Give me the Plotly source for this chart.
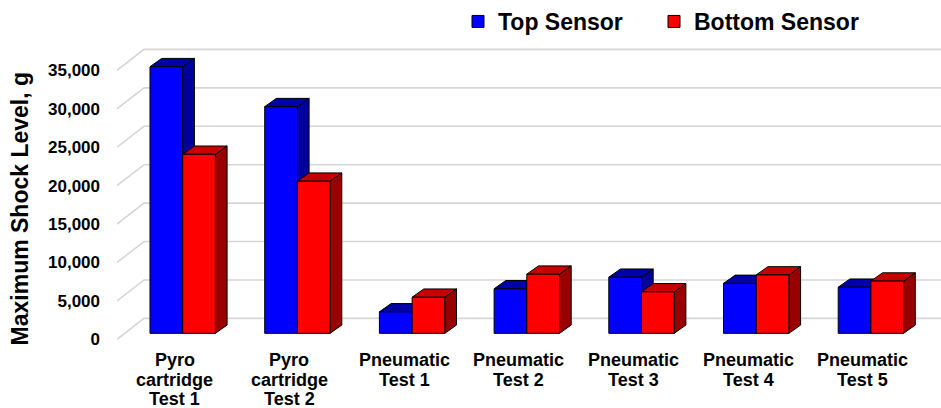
import plotly.graph_objects as go

# ---- data -------------------------------------------------------------
categories = [
    "Pyro<br>cartridge<br>Test 1",
    "Pyro<br>cartridge<br>Test 2",
    "Pneumatic<br>Test 1",
    "Pneumatic<br>Test 2",
    "Pneumatic<br>Test 3",
    "Pneumatic<br>Test 4",
    "Pneumatic<br>Test 5",
]
top_sensor = [34700, 29500, 2800, 5800, 7300, 6500, 6000]
bottom_sensor = [23300, 19800, 4700, 7700, 5400, 7600, 6800]
series_names = ["Top Sensor", "Bottom Sensor"]
y_ticks = [0, 5000, 10000, 15000, 20000, 25000, 30000, 35000]
y_tick_text = ["0", "5,000", "10,000", "15,000", "20,000", "25,000", "30,000", "35,000"]
y_title = "Maximum Shock Level, g"

# ---- styling ----------------------------------------------------------
FONT = "Liberation Sans, Arial, Helvetica, sans-serif"
FRONT = ["#0000FF", "#FF0000"]
TOP = ["#0000A8", "#C80000"]
SIDE = ["#00009A", "#990000"]
GRID = "#D6D6D6"

# ---- geometry (pixels) ------------------------------------------------
W, H = 941, 408
M_L, M_R, M_T, M_B = 117, 0, 40, 63
PLOT_W = W - M_L - M_R
PLOT_H = H - M_T - M_B
PX_PER_CAT = 114.7          # distance between category centres
FIRST_CAT_PX = 182.7        # x pixel of the first category centre
PX_PER_UNIT = 7.71 / 1000   # vertical pixels per g
ZERO_PX = 333.3             # y pixel of the bar baseline
LEGEND_PX = [458, 654]      # left edge of each legend entry

X0 = -(FIRST_CAT_PX - M_L) / PX_PER_CAT
X1 = X0 + PLOT_W / PX_PER_CAT
Y0 = -(M_T + PLOT_H - ZERO_PX) / PX_PER_UNIT
Y1 = (ZERO_PX - M_T) / PX_PER_UNIT


def dx(px):
    return px / PX_PER_CAT


def dy(px):
    return px / PX_PER_UNIT


BAR_W = 0.285                 # width of one bar in category units
DEPTH_X, DEPTH_Y = dx(11.7), dy(8.3)      # bar depth (oblique)
WALL_X, WALL_Y = dx(27), dy(15)           # back wall offset from bar plane
FRONT_Y = dy(6)                           # front edge offset below bar plane

x_idx = list(range(len(categories)))
legend_ids = ["legend", "legend2"]

fig = go.Figure()
for s, (name, vals) in enumerate(zip(series_names, [top_sensor, bottom_sensor])):
    fig.add_trace(go.Bar(
        x=x_idx, y=vals, name=name, legend=legend_ids[s],
        marker=dict(color=FRONT[s], line=dict(color="black", width=1)),
        width=BAR_W, offset=-BAR_W + s * BAR_W,
    ))

shapes = []
# back-wall gridlines with the diagonal floor/side segment
for v in y_ticks:
    shapes.append(dict(
        type="path", xref="x", yref="y", layer="below",
        path=f"M{X0},{v - FRONT_Y} L{X0 + WALL_X},{v + WALL_Y} L{X1},{v + WALL_Y}",
        line=dict(color=GRID, width=1.6),
    ))

# top and side faces of every bar
for s, vals in enumerate([top_sensor, bottom_sensor]):
    for i, v in zip(x_idx, vals):
        L = i - BAR_W + s * BAR_W
        R = L + BAR_W
        top = (f"M{L},{v} L{L + DEPTH_X},{v + DEPTH_Y} "
               f"L{R + DEPTH_X},{v + DEPTH_Y} L{R},{v} Z")
        side = (f"M{R},0 L{R},{v} L{R + DEPTH_X},{v + DEPTH_Y} "
                f"L{R + DEPTH_X},{DEPTH_Y} Z")
        for p, c in ((side, SIDE[s]), (top, TOP[s])):
            shapes.append(dict(
                type="path", xref="x", yref="y", layer="below", path=p,
                fillcolor=c, line=dict(color="black", width=1),
            ))

# category labels, one annotation per line for tighter line spacing
LINE_STEP = 19.8
annotations = []
for i, c in zip(x_idx, categories):
    for k, line in enumerate(c.split("<br>")):
        annotations.append(dict(
            x=i, y=0, xref="x", yref="y", text=line, showarrow=False,
            xanchor="center", yanchor="middle", xshift=-8,
            yshift=-(26.5 + LINE_STEP * k),
            font=dict(family=FONT, size=18, color="black", weight="bold"),
        ))
annotations.append(dict(
    x=(20 - M_L) / PLOT_W, y=(M_T + PLOT_H - 208) / PLOT_H,
    xref="paper", yref="paper", text=y_title, textangle=-90, showarrow=False,
    xanchor="center", yanchor="middle",
    font=dict(family=FONT, size=23, color="black", weight="bold"),
))

legend_style = dict(
    orientation="h", y=(M_T + PLOT_H - 20) / PLOT_H,
    xanchor="left", yanchor="middle",
    font=dict(family=FONT, size=23, color="black", weight="bold"),
    bgcolor="rgba(0,0,0,0)", itemclick=False, itemdoubleclick=False,
)

fig.update_layout(
    width=W, height=H,
    margin=dict(l=M_L, r=M_R, t=M_T, b=M_B, pad=0),
    paper_bgcolor="white", plot_bgcolor="white",
    barmode="overlay",
    shapes=shapes, annotations=annotations,
    font=dict(family=FONT, color="black"),
    showlegend=True,
    legend=dict(x=(LEGEND_PX[0] - M_L) / PLOT_W, **legend_style),
    legend2=dict(x=(LEGEND_PX[1] - M_L) / PLOT_W, **legend_style),
    xaxis=dict(range=[X0, X1], showticklabels=False, showgrid=False,
               zeroline=False, showline=False, fixedrange=True),
    yaxis=dict(range=[Y0, Y1], tickvals=y_ticks, ticktext=y_tick_text,
               showgrid=False, zeroline=False, showline=False, ticks="",
               ticklabelshift=6, ticklabelstandoff=16,
               tickfont=dict(family=FONT, size=17, color="black", weight="bold"),
               fixedrange=True),
)

fig.write_html("out.html")
